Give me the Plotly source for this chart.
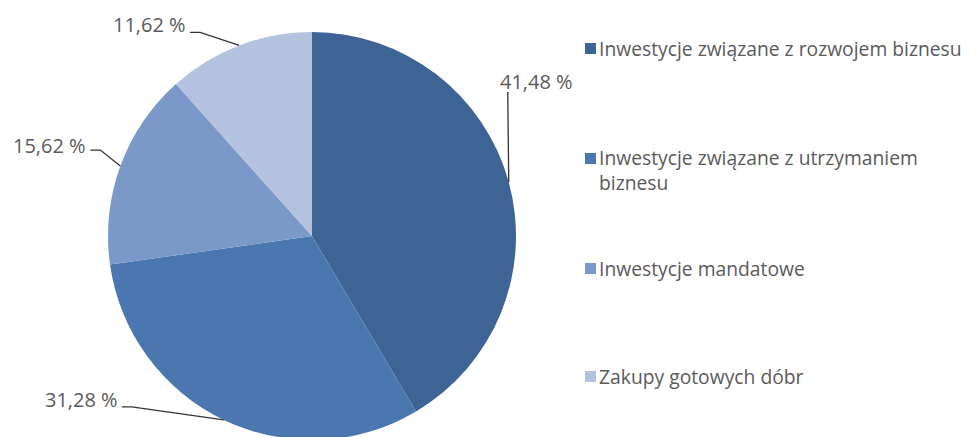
import math
import plotly.graph_objects as go

categories = [
    "Inwestycje związane z rozwojem biznesu",
    "Inwestycje związane z utrzymaniem<br>biznesu",
    "Inwestycje mandatowe",
    "Zakupy gotowych dóbr",
]
values = [41.48, 31.28, 15.62, 11.62]
value_labels = ["41,48 %", "31,28 %", "15,62 %", "11,62 %"]
colors = ["#3E6496", "#4A77B0", "#7A98C8", "#B3C2DE"]

W, H = 976, 437
OFF = 8  # page body margin of the html page
cx, cy, R = 312 - OFF, 236 - OFF, 204  # pixel centre (figure coords, from top) and radius

FONT = "Open Sans"
TXT = "#5A5A5A"
LINE = "#333333"


def px2paper(x, y):
    return x / W, 1 - y / H


fig = go.Figure()
fig.add_trace(go.Pie(
    labels=categories, values=values, sort=False, direction="clockwise",
    rotation=0, textinfo="none", hoverinfo="label+percent",
    marker=dict(colors=colors, line=dict(width=0)),
    domain=dict(x=[(cx - R) / W, (cx + R) / W],
                y=[max(0.0, (H - cy - R) / H), min(1.0, (H - cy + R) / H)]),
    showlegend=False,
))

# leader-line styling per label: elbow offset from rim anchor, horizontal tail,
# text anchor offset from rim anchor, text x-anchor
leader = [
    dict(elbow=(-1, -90), tail=0, text=(28, -101), xanchor="center"),
    dict(elbow=(-92, -13), tail=-10, text=(-104, -20), xanchor="right"),
    dict(elbow=(-20, -16), tail=-10, text=(-32, -21), xanchor="right"),
    dict(elbow=(-39, -13), tail=-10, text=(-51, -21), xanchor="right"),
]

annotations = []
shapes = []
total = sum(values)
cum = 0.0
for v, lab, st in zip(values, value_labels, leader):
    mid = (cum + v / 2) / total * 2 * math.pi
    cum += v
    ax_ = cx + R * math.sin(mid)
    ay_ = cy - R * math.cos(mid)
    ex, ey = ax_ + st["elbow"][0], ay_ + st["elbow"][1]
    tx, ty = ex + st["tail"], ey
    p0 = px2paper(ax_, ay_)
    p1 = px2paper(ex, ey)
    p2 = px2paper(tx, ty)
    shapes.append(dict(type="path", xref="paper", yref="paper",
                       path=f"M{p0[0]},{p0[1]} L{p1[0]},{p1[1]} L{p2[0]},{p2[1]}",
                       line=dict(color=LINE, width=1.3)))
    lx, ly = px2paper(ax_ + st["text"][0], ay_ + st["text"][1])
    annotations.append(dict(
        x=lx, y=ly, xref="paper", yref="paper", xanchor=st["xanchor"], yanchor="middle",
        text=lab, showarrow=False, font=dict(family=FONT, size=20, color=TXT),
    ))

# manual legend (item centre rows, window pixels)
legend_y = [48, 158, 268, 376]
for name, col, ly in zip(categories, colors, legend_y):
    y = ly - OFF
    x0, y0 = px2paper(585 - OFF, y + 6)
    x1, y1 = px2paper(596 - OFF, y - 5)
    shapes.append(dict(type="rect", xref="paper", yref="paper",
                       x0=x0, x1=x1, y0=y0, y1=y1, fillcolor=col, line=dict(width=0)))
    nlines = name.count("<br>") + 1
    tx, ty = px2paper(597 - OFF, y + (nlines - 1) * 12)
    annotations.append(dict(
        x=tx, y=ty, xref="paper", yref="paper",
        xanchor="left", yanchor="middle", align="left", showarrow=False,
        text=name, font=dict(family=FONT, size=19.3, color=TXT),
    ))

fig.update_layout(
    width=W, height=H, margin=dict(l=0, r=0, t=0, b=0),
    paper_bgcolor="white", plot_bgcolor="white",
    annotations=annotations, shapes=shapes,
)
fig.write_html("out.html")
